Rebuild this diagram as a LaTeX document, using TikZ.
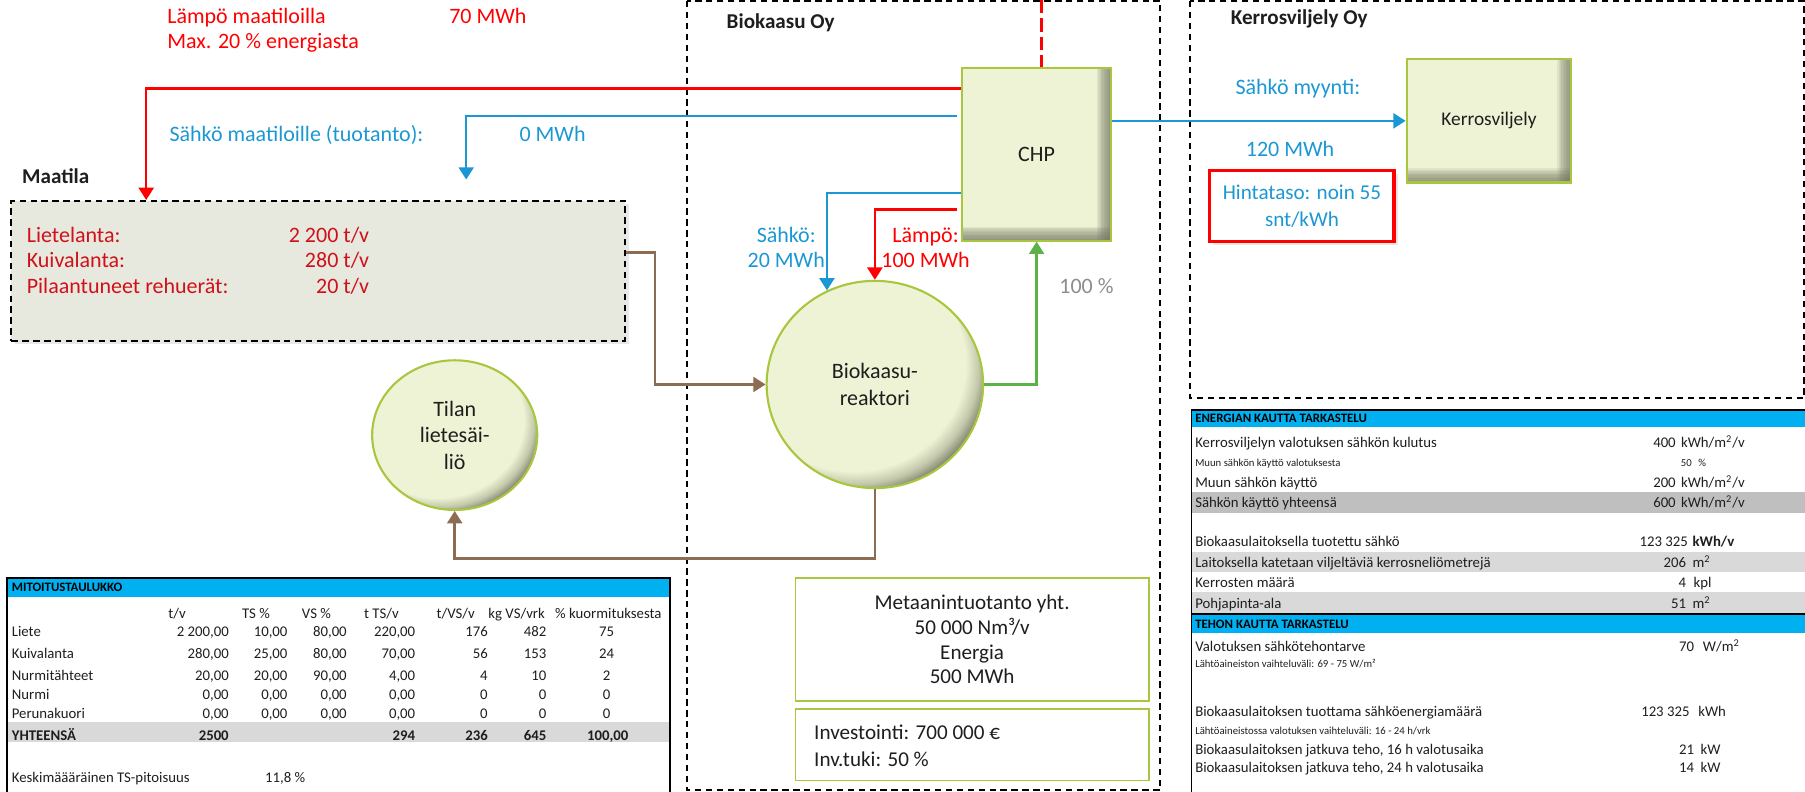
\documentclass[tikz,border=0pt]{standalone}
\usepackage{fontspec}
\setmainfont{Carlito}
\usetikzlibrary{arrows.meta,shapes.geometric,shadows}
\definecolor{heat}{RGB}{255,0,0}
\definecolor{farmtext}{RGB}{208,16,26}
\definecolor{elec}{RGB}{27,152,212}
\definecolor{manure}{RGB}{140,108,82}
\definecolor{gas}{RGB}{92,178,71}
\definecolor{boxfill}{RGB}{238,243,213}
\definecolor{boxmid}{RGB}{196,201,172}
\definecolor{boxdark}{RGB}{118,120,100}
\definecolor{boxline}{RGB}{168,198,62}
\definecolor{farmfill}{RGB}{232,233,222}
\definecolor{tabblue}{RGB}{0,176,240}
\definecolor{rowgray}{RGB}{191,191,191}
\definecolor{rowlight}{RGB}{217,217,217}
\definecolor{pcgray}{RGB}{140,140,140}
\definecolor{ink}{RGB}{30,30,30}
\pgfdeclareradialshading{tankshade}{\pgfpoint{-10.6bp}{10.6bp}}{color(0bp)=(boxfill); color(26bp)=(boxfill); color(28.5bp)=(boxmid); color(31bp)=(boxdark); color(50bp)=(boxdark)}
\tikzset{
  flow/.style={line width=1.4pt, -{Triangle[width=8.5pt,length=7pt]}},
  region/.style={line width=1.1pt, dash pattern=on 3.6pt off 2.6pt},
  lbl/.style={inner sep=0pt, font=\fontsize{12.5}{15}\selectfont},
  title/.style={inner sep=0pt, text=ink, font=\fontsize{12}{14}\selectfont\bfseries},
  cell/.style={inner sep=0pt, text=ink, font=\fontsize{8.4}{10}\selectfont},
  tiny/.style={inner sep=0pt, text=ink, font=\fontsize{6.1}{7}\selectfont},
  tabhead/.style={inner sep=0pt, font=\fontsize{7.3}{8}\selectfont\bfseries},
  unitbox/.style={rectangle, draw=boxline, line width=1.2pt, fill=boxfill, inner sep=0pt, text=ink,
    font=\fontsize{12.5}{15}\selectfont,
    path picture={
      \foreach \d in {1,...,10}{
        \fill[boxdark, opacity=0.12] ([xshift=-0.8*\d pt]path picture bounding box.north east) rectangle (path picture bounding box.south east);
        \fill[boxdark, opacity=0.12] ([yshift=0.8*\d pt]path picture bounding box.south west) rectangle (path picture bounding box.south east);}}},
  tank/.style={ellipse, draw=boxline, line width=1.2pt, shade, shading=tankshade, inner sep=0pt, align=center, text=ink,
    font=\fontsize{12.5}{15}\selectfont},
  infobox/.style={rectangle, draw=boxline, line width=1pt, fill=white, inner sep=0pt, text=ink},
}
\begin{document}
\begin{tikzpicture}[x=0.023cm, y=-0.023cm]
\useasboundingbox (0,0) rectangle (1568,688);
% regions
\draw[region] (597,1) rectangle (1008,686);
\draw[region] (1034,1) rectangle (1567,346);
\node[title, anchor=base west] (biotitle) at (631,24.6) {Biokaasu Oy};
\node[title, anchor=base west] (kerrostitle) at (1069,21) {Kerrosviljely Oy};
\node[title, anchor=base west] (farmtitle) at (19,159) {Maatila};
% units
\node[draw, region, fill=farmfill, minimum width=12.259cm, minimum height=2.792cm, drop shadow={opacity=0.18, shadow xshift=2pt, shadow yshift=-2pt}] (maatila) at (276.5,235.3) {};
\node[unitbox, minimum width=2.967cm, minimum height=3.45cm] (chp) at (900.5,134) {CHP};
\node[unitbox, minimum width=3.289cm, minimum height=2.461cm, font=\fontsize{11}{13}\selectfont] (kerros) at (1293.5,105) {Kerrosviljely};
\node[tank, minimum width=4.324cm, minimum height=4.14cm] (reactor) at (760,334) {Biokaasu-\\reaktori};
\node[tank, minimum width=3.298cm, minimum height=2.99cm] (tilan) at (395,378) {Tilan\\lietesäi-\\liö};
\node[draw=heat, line width=1.8pt, fill=white, minimum width=3.68cm, minimum height=1.426cm, inner sep=0pt, align=center, text=elec, font=\fontsize{12}{15.3}\selectfont, drop shadow={opacity=0.18, shadow xshift=2pt, shadow yshift=-2pt}] (price) at (1131,179) {Hintataso: noin 55\\snt/kWh};
\node[infobox, minimum width=7.061cm, minimum height=2.461cm, align=center, font=\fontsize{12}{14.1}\selectfont] (meta) at (844.5,555.5) {Metaanintuotanto yht.\\50 000 Nm³/v\\Energia\\500 MWh};
\node[infobox, minimum width=7.061cm, minimum height=1.426cm] (invest) at (844.5,647) {};
\node[inner sep=0pt, anchor=west, align=left, text=ink, font=\fontsize{12}{15}\selectfont] (investtxt) at (707,648) {Investointi: 700 000 €\\Inv.tuki: 50 \%};
% flows
\coordinate (farmheat) at (127,77);
\coordinate (elecout) at (831,101);
\coordinate (farmelec) at (405,156);
\coordinate (elecreact) at (718,167.5);
\coordinate (heatreact) at (831,182);
\coordinate (heattop) at (905,0);
\coordinate (manure) at (569,219.5);
\coordinate (digest) at (395,485);
\draw[flow, heat] (chp.west |- farmheat) -| (farmheat |- maatila.north);
\draw[flow, elec] (elecout) -| (farmelec);
\draw[heat, line width=1.6pt, dash pattern=on 7.5pt off 3pt] (heattop) -- (heattop |- chp.north);
\draw[flow, elec] (chp.east |- kerros.west) -- (kerros.west);
\draw[flow, elec] (chp.west |- elecreact) -| (reactor.117.2);
\draw[flow, heat] (heatreact) -| (reactor.north);
\draw[flow, gas] (reactor.east) -| (chp.south);
\draw[flow, manure] (maatila.east |- manure) -- (manure) |- (reactor.west);
\draw[flow, manure] (reactor.south) |- (digest) -- (tilan.south);
% flow labels
\node[lbl, heat, anchor=base west] (heatlbl) at (145,20) {Lämpö maatiloilla};
\node[lbl, heat, anchor=base west] (heatmax) at (145,42) {Max. 20 \% energiasta};
\node[lbl, heat, anchor=base west] (heatval) at (390,20) {70 MWh};
\node[lbl, elec, anchor=base west] (eleclbl) at (147,123) {Sähkö maatiloille (tuotanto):};
\node[lbl, elec, anchor=base west] (elecval) at (451,123) {0 MWh};
\node[lbl, elec, anchor=base west] (salelbl) at (1073,81.7) {Sähkö myynti:};
\node[lbl, elec, anchor=base west] (saleval) at (1082,136) {120 MWh};
\node[lbl, elec, anchor=base] (ownelec) at (683,210.8) {Sähkö:};
\node[lbl, elec, anchor=base] (ownelecval) at (683,232.6) {20 MWh};
\node[lbl, heat, anchor=base] (ownheat) at (804,210.8) {Lämpö:};
\node[lbl, heat, anchor=base] (ownheatval) at (804,232.6) {100 MWh};
\node[lbl, pcgray, anchor=base west] (gasshare) at (920,254.8) {100 \%};
\node[lbl, farmtext, anchor=base west] (lietel) at (23,210.8) {Lietelanta:};
\node[lbl, farmtext, anchor=base east] (lietev) at (321,210.8) {2 200 t/v};
\node[lbl, farmtext, anchor=base west] (kuival) at (23,232.8) {Kuivalanta:};
\node[lbl, farmtext, anchor=base east] (kuivav) at (321,232.8) {280 t/v};
\node[lbl, farmtext, anchor=base west] (rehul) at (23,255.4) {Pilaantuneet rehuerät:};
\node[lbl, farmtext, anchor=base east] (rehuv) at (321,255.4) {20 t/v};
% mitoitustaulukko
\fill[tabblue] (6,502) rectangle (582,519);
\fill[rowlight] (6,627) rectangle (582,645);
\draw[line width=0.8pt] (6,688) -- (6,502) -- (582,502) -- (582,688);
\node[tabhead, anchor=base west] (mhead) at (10,514) {MITOITUSTAULUKKO};
\node[cell, anchor=base west] (mc1) at (146,537) {t/v};
\node[cell, anchor=base west] (mc2) at (210,537) {TS \%};
\node[cell, anchor=base west] (mc3) at (262,537) {VS \%};
\node[cell, anchor=base west] (mc4) at (316,537) {t TS/v};
\node[cell, anchor=base west] (mc5) at (379,537) {t/VS/v};
\node[cell, anchor=base west] (mc6) at (424,537) {kg VS/vrk};
\node[cell, anchor=base west] (mc7) at (482,537) {\% kuormituksesta};
\node[cell, anchor=base west] (m1) at (10,553) {Liete};
\node[cell, anchor=base east] (m11) at (199,553) {2 200,00};
\node[cell, anchor=base east] (m12) at (250,553) {10,00};
\node[cell, anchor=base east] (m13) at (301.5,553) {80,00};
\node[cell, anchor=base east] (m14) at (361,553) {220,00};
\node[cell, anchor=base east] (m15) at (424,553) {176};
\node[cell, anchor=base east] (m16) at (475,553) {482};
\node[cell, anchor=base] (m17) at (527,553) {75};
\node[cell, anchor=base west] (m2) at (10,572) {Kuivalanta};
\node[cell, anchor=base east] (m21) at (199,572) {280,00};
\node[cell, anchor=base east] (m22) at (250,572) {25,00};
\node[cell, anchor=base east] (m23) at (301.5,572) {80,00};
\node[cell, anchor=base east] (m24) at (361,572) {70,00};
\node[cell, anchor=base east] (m25) at (424,572) {56};
\node[cell, anchor=base east] (m26) at (475,572) {153};
\node[cell, anchor=base] (m27) at (527,572) {24};
\node[cell, anchor=base west] (m3) at (10,591) {Nurmitähteet};
\node[cell, anchor=base east] (m31) at (199,591) {20,00};
\node[cell, anchor=base east] (m32) at (250,591) {20,00};
\node[cell, anchor=base east] (m33) at (301.5,591) {90,00};
\node[cell, anchor=base east] (m34) at (361,591) {4,00};
\node[cell, anchor=base east] (m35) at (424,591) {4};
\node[cell, anchor=base east] (m36) at (475,591) {10};
\node[cell, anchor=base] (m37) at (527,591) {2};
\node[cell, anchor=base west] (m4) at (10,608) {Nurmi};
\node[cell, anchor=base east] (m41) at (199,608) {0,00};
\node[cell, anchor=base east] (m42) at (250,608) {0,00};
\node[cell, anchor=base east] (m43) at (301.5,608) {0,00};
\node[cell, anchor=base east] (m44) at (361,608) {0,00};
\node[cell, anchor=base east] (m45) at (424,608) {0};
\node[cell, anchor=base east] (m46) at (475,608) {0};
\node[cell, anchor=base] (m47) at (527,608) {0};
\node[cell, anchor=base west] (m5) at (10,624) {Perunakuori};
\node[cell, anchor=base east] (m51) at (199,624) {0,00};
\node[cell, anchor=base east] (m52) at (250,624) {0,00};
\node[cell, anchor=base east] (m53) at (301.5,624) {0,00};
\node[cell, anchor=base east] (m54) at (361,624) {0,00};
\node[cell, anchor=base east] (m55) at (424,624) {0};
\node[cell, anchor=base east] (m56) at (475,624) {0};
\node[cell, anchor=base] (m57) at (527,624) {0};
\node[cell, font=\fontsize{8.4}{10}\selectfont\bfseries, anchor=base west] (m6) at (10,643) {YHTEENSÄ};
\node[cell, font=\fontsize{8.4}{10}\selectfont\bfseries, anchor=base east] (m61) at (199,643) {2500};
\node[cell, font=\fontsize{8.4}{10}\selectfont\bfseries, anchor=base east] (m64) at (361,643) {294};
\node[cell, font=\fontsize{8.4}{10}\selectfont\bfseries, anchor=base east] (m65) at (424,643) {236};
\node[cell, font=\fontsize{8.4}{10}\selectfont\bfseries, anchor=base east] (m66) at (475,643) {645};
\node[cell, font=\fontsize{8.4}{10}\selectfont\bfseries, anchor=base] (m67) at (528,643) {100,00};
\node[cell, anchor=base west] (mts) at (10,680) {Keskimäääräinen TS-pitoisuus};
\node[cell, anchor=base west] (mtsv) at (230,680) {11,8 \%};
% tarkastelu
\fill[tabblue] (1035,356) rectangle (1568,371);
\fill[rowgray] (1035,427) rectangle (1568,446);
\fill[rowlight] (1035,479.5) rectangle (1568,497);
\fill[rowlight] (1035,514.5) rectangle (1568,533);
\fill[tabblue] (1035,534) rectangle (1568,550);
\draw[line width=0.8pt] (1035,688) -- (1035,356) -- (1568,356);
\draw[line width=0.8pt] (1035,533.5) -- (1568,533.5);
\node[tabhead, anchor=base west] (ehead) at (1038,367) {ENERGIAN KAUTTA TARKASTELU};
\node[cell, anchor=base west] (e1) at (1038,389) {Kerrosviljelyn valotuksen sähkön kulutus};
\node[cell, anchor=base east] (e1v) at (1456,389) {400};
\node[cell, anchor=base west] (e1u) at (1460,389) {kWh/m\textsuperscript{2}/v};
\node[tiny, anchor=base west] (e2) at (1038,405) {Muun sähkön käyttö valotuksesta};
\node[tiny, anchor=base east] (e2v) at (1470,405) {50};
\node[tiny, anchor=base west] (e2u) at (1475,405) {\%};
\node[cell, anchor=base west] (e3) at (1038,423.5) {Muun sähkön käyttö};
\node[cell, anchor=base east] (e3v) at (1456,423.5) {200};
\node[cell, anchor=base west] (e3u) at (1460,423.5) {kWh/m\textsuperscript{2}/v};
\node[cell, anchor=base west] (e4) at (1038,441) {Sähkön käyttö yhteensä};
\node[cell, anchor=base east] (e4v) at (1456,441) {600};
\node[cell, anchor=base west] (e4u) at (1460,441) {kWh/m\textsuperscript{2}/v};
\node[cell, anchor=base west] (e5) at (1038,475) {Biokaasulaitoksella tuotettu sähkö};
\node[cell, anchor=base east] (e5v) at (1466.6,475) {123 325};
\node[cell, anchor=base west] (e5u) at (1470,475) {\textbf{kWh/v}};
\node[cell, anchor=base west] (e6) at (1038,493) {Laitoksella katetaan viljeltäviä kerrosneliömetrejä};
\node[cell, anchor=base east] (e6v) at (1465,493) {206};
\node[cell, anchor=base west] (e6u) at (1470,493) {m\textsuperscript{2}};
\node[cell, anchor=base west] (e7) at (1038,510.7) {Kerrosten määrä};
\node[cell, anchor=base east] (e7v) at (1465,510.7) {4};
\node[cell, anchor=base west] (e7u) at (1471,510.7) {kpl};
\node[cell, anchor=base west] (e8) at (1038,528.5) {Pohjapinta-ala};
\node[cell, anchor=base east] (e8v) at (1465,528.5) {51};
\node[cell, anchor=base west] (e8u) at (1470,528.5) {m\textsuperscript{2}};
\node[tabhead, anchor=base west] (thead) at (1038,546) {TEHON KAUTTA TARKASTELU};
\node[cell, anchor=base west] (t1) at (1038,566) {Valotuksen sähkötehontarve};
\node[cell, anchor=base east] (t1v) at (1472,566) {70};
\node[cell, anchor=base west] (t1u) at (1479,566) {W/m\textsuperscript{2}};
\node[tiny, anchor=base west] (t2) at (1038,579.5) {Lähtöaineiston vaihteluväli: 69 - 75 W/m²};
\node[cell, anchor=base west] (t3) at (1038,622) {Biokaasulaitoksen tuottama sähköenergiamäärä};
\node[cell, anchor=base east] (t3v) at (1468,622) {123 325};
\node[cell, anchor=base west] (t3u) at (1475,622) {kWh};
\node[tiny, anchor=base west] (t4) at (1038,638) {Lähtöaineistossa valotuksen vaihteluväli: 16 - 24 h/vrk};
\node[cell, anchor=base west] (t5) at (1038,655.6) {Biokaasulaitoksen jatkuva teho, 16 h valotusaika};
\node[cell, anchor=base east] (t5v) at (1472,655.6) {21};
\node[cell, anchor=base west] (t5u) at (1477,655.6) {kW};
\node[cell, anchor=base west] (t6) at (1038,671) {Biokaasulaitoksen jatkuva teho, 24 h valotusaika};
\node[cell, anchor=base east] (t6v) at (1472,671) {14};
\node[cell, anchor=base west] (t6u) at (1477,671) {kW};
\end{tikzpicture}
\end{document}
